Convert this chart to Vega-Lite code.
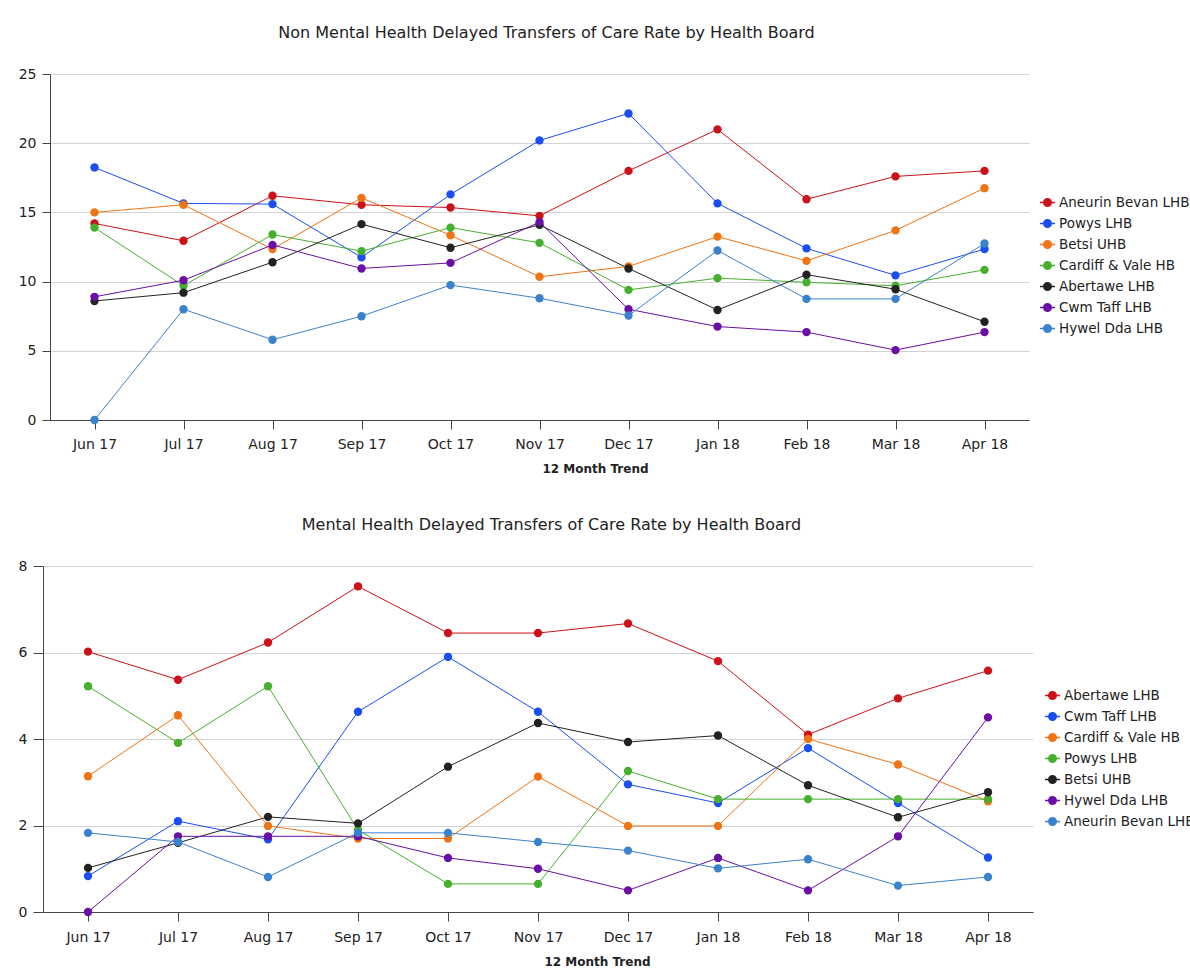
{
  "$schema": "https://vega.github.io/schema/vega-lite/v6.json",
  "background": "white",
  "padding": {"left": 18, "top": 25, "right": 0, "bottom": 0},
  "datasets": {
    "nonmh": [
      {"m":"Jun 17","s":"Aneurin Bevan LHB","v":14.2},{"m":"Jul 17","s":"Aneurin Bevan LHB","v":12.95},{"m":"Aug 17","s":"Aneurin Bevan LHB","v":16.2},{"m":"Sep 17","s":"Aneurin Bevan LHB","v":15.55},{"m":"Oct 17","s":"Aneurin Bevan LHB","v":15.35},{"m":"Nov 17","s":"Aneurin Bevan LHB","v":14.75},{"m":"Dec 17","s":"Aneurin Bevan LHB","v":18.0},{"m":"Jan 18","s":"Aneurin Bevan LHB","v":21.0},{"m":"Feb 18","s":"Aneurin Bevan LHB","v":15.95},{"m":"Mar 18","s":"Aneurin Bevan LHB","v":17.6},{"m":"Apr 18","s":"Aneurin Bevan LHB","v":18.0},
      {"m":"Jun 17","s":"Powys LHB","v":18.25},{"m":"Jul 17","s":"Powys LHB","v":15.65},{"m":"Aug 17","s":"Powys LHB","v":15.6},{"m":"Sep 17","s":"Powys LHB","v":11.75},{"m":"Oct 17","s":"Powys LHB","v":16.3},{"m":"Nov 17","s":"Powys LHB","v":20.2},{"m":"Dec 17","s":"Powys LHB","v":22.15},{"m":"Jan 18","s":"Powys LHB","v":15.65},{"m":"Feb 18","s":"Powys LHB","v":12.4},{"m":"Mar 18","s":"Powys LHB","v":10.45},{"m":"Apr 18","s":"Powys LHB","v":12.35},
      {"m":"Jun 17","s":"Betsi UHB","v":15.0},{"m":"Jul 17","s":"Betsi UHB","v":15.55},{"m":"Aug 17","s":"Betsi UHB","v":12.35},{"m":"Sep 17","s":"Betsi UHB","v":16.05},{"m":"Oct 17","s":"Betsi UHB","v":13.35},{"m":"Nov 17","s":"Betsi UHB","v":10.35},{"m":"Dec 17","s":"Betsi UHB","v":11.1},{"m":"Jan 18","s":"Betsi UHB","v":13.25},{"m":"Feb 18","s":"Betsi UHB","v":11.5},{"m":"Mar 18","s":"Betsi UHB","v":13.7},{"m":"Apr 18","s":"Betsi UHB","v":16.75},
      {"m":"Jun 17","s":"Cardiff & Vale HB","v":13.9},{"m":"Jul 17","s":"Cardiff & Vale HB","v":9.7},{"m":"Aug 17","s":"Cardiff & Vale HB","v":13.4},{"m":"Sep 17","s":"Cardiff & Vale HB","v":12.2},{"m":"Oct 17","s":"Cardiff & Vale HB","v":13.9},{"m":"Nov 17","s":"Cardiff & Vale HB","v":12.8},{"m":"Dec 17","s":"Cardiff & Vale HB","v":9.4},{"m":"Jan 18","s":"Cardiff & Vale HB","v":10.25},{"m":"Feb 18","s":"Cardiff & Vale HB","v":9.95},{"m":"Mar 18","s":"Cardiff & Vale HB","v":9.7},{"m":"Apr 18","s":"Cardiff & Vale HB","v":10.85},
      {"m":"Jun 17","s":"Abertawe LHB","v":8.6},{"m":"Jul 17","s":"Abertawe LHB","v":9.2},{"m":"Aug 17","s":"Abertawe LHB","v":11.4},{"m":"Sep 17","s":"Abertawe LHB","v":14.15},{"m":"Oct 17","s":"Abertawe LHB","v":12.45},{"m":"Nov 17","s":"Abertawe LHB","v":14.1},{"m":"Dec 17","s":"Abertawe LHB","v":10.95},{"m":"Jan 18","s":"Abertawe LHB","v":7.95},{"m":"Feb 18","s":"Abertawe LHB","v":10.5},{"m":"Mar 18","s":"Abertawe LHB","v":9.45},{"m":"Apr 18","s":"Abertawe LHB","v":7.1},
      {"m":"Jun 17","s":"Cwm Taff LHB","v":8.9},{"m":"Jul 17","s":"Cwm Taff LHB","v":10.1},{"m":"Aug 17","s":"Cwm Taff LHB","v":12.65},{"m":"Sep 17","s":"Cwm Taff LHB","v":10.95},{"m":"Oct 17","s":"Cwm Taff LHB","v":11.35},{"m":"Nov 17","s":"Cwm Taff LHB","v":14.3},{"m":"Dec 17","s":"Cwm Taff LHB","v":8.0},{"m":"Jan 18","s":"Cwm Taff LHB","v":6.75},{"m":"Feb 18","s":"Cwm Taff LHB","v":6.35},{"m":"Mar 18","s":"Cwm Taff LHB","v":5.05},{"m":"Apr 18","s":"Cwm Taff LHB","v":6.35},
      {"m":"Jun 17","s":"Hywel Dda LHB","v":0},{"m":"Jul 17","s":"Hywel Dda LHB","v":8.0},{"m":"Aug 17","s":"Hywel Dda LHB","v":5.8},{"m":"Sep 17","s":"Hywel Dda LHB","v":7.5},{"m":"Oct 17","s":"Hywel Dda LHB","v":9.75},{"m":"Nov 17","s":"Hywel Dda LHB","v":8.8},{"m":"Dec 17","s":"Hywel Dda LHB","v":7.55},{"m":"Jan 18","s":"Hywel Dda LHB","v":12.25},{"m":"Feb 18","s":"Hywel Dda LHB","v":8.75},{"m":"Mar 18","s":"Hywel Dda LHB","v":8.75},{"m":"Apr 18","s":"Hywel Dda LHB","v":12.75}
    ],
    "mh": [
      {"m":"Jun 17","s":"Abertawe LHB","v":6.02},{"m":"Jul 17","s":"Abertawe LHB","v":5.37},{"m":"Aug 17","s":"Abertawe LHB","v":6.23},{"m":"Sep 17","s":"Abertawe LHB","v":7.53},{"m":"Oct 17","s":"Abertawe LHB","v":6.45},{"m":"Nov 17","s":"Abertawe LHB","v":6.45},{"m":"Dec 17","s":"Abertawe LHB","v":6.67},{"m":"Jan 18","s":"Abertawe LHB","v":5.8},{"m":"Feb 18","s":"Abertawe LHB","v":4.1},{"m":"Mar 18","s":"Abertawe LHB","v":4.94},{"m":"Apr 18","s":"Abertawe LHB","v":5.58},
      {"m":"Jun 17","s":"Cwm Taff LHB","v":0.83},{"m":"Jul 17","s":"Cwm Taff LHB","v":2.1},{"m":"Aug 17","s":"Cwm Taff LHB","v":1.68},{"m":"Sep 17","s":"Cwm Taff LHB","v":4.63},{"m":"Oct 17","s":"Cwm Taff LHB","v":5.9},{"m":"Nov 17","s":"Cwm Taff LHB","v":4.63},{"m":"Dec 17","s":"Cwm Taff LHB","v":2.95},{"m":"Jan 18","s":"Cwm Taff LHB","v":2.52},{"m":"Feb 18","s":"Cwm Taff LHB","v":3.79},{"m":"Mar 18","s":"Cwm Taff LHB","v":2.52},{"m":"Apr 18","s":"Cwm Taff LHB","v":1.26},
      {"m":"Jun 17","s":"Cardiff & Vale HB","v":3.14},{"m":"Jul 17","s":"Cardiff & Vale HB","v":4.55},{"m":"Aug 17","s":"Cardiff & Vale HB","v":1.99},{"m":"Sep 17","s":"Cardiff & Vale HB","v":1.7},{"m":"Oct 17","s":"Cardiff & Vale HB","v":1.7},{"m":"Nov 17","s":"Cardiff & Vale HB","v":3.13},{"m":"Dec 17","s":"Cardiff & Vale HB","v":1.99},{"m":"Jan 18","s":"Cardiff & Vale HB","v":1.99},{"m":"Feb 18","s":"Cardiff & Vale HB","v":4.0},{"m":"Mar 18","s":"Cardiff & Vale HB","v":3.41},{"m":"Apr 18","s":"Cardiff & Vale HB","v":2.56},
      {"m":"Jun 17","s":"Powys LHB","v":5.22},{"m":"Jul 17","s":"Powys LHB","v":3.91},{"m":"Aug 17","s":"Powys LHB","v":5.22},{"m":"Sep 17","s":"Powys LHB","v":1.9},{"m":"Oct 17","s":"Powys LHB","v":0.65},{"m":"Nov 17","s":"Powys LHB","v":0.65},{"m":"Dec 17","s":"Powys LHB","v":3.26},{"m":"Jan 18","s":"Powys LHB","v":2.61},{"m":"Feb 18","s":"Powys LHB","v":2.61},{"m":"Mar 18","s":"Powys LHB","v":2.61},{"m":"Apr 18","s":"Powys LHB","v":2.61},
      {"m":"Jun 17","s":"Betsi UHB","v":1.02},{"m":"Jul 17","s":"Betsi UHB","v":1.6},{"m":"Aug 17","s":"Betsi UHB","v":2.2},{"m":"Sep 17","s":"Betsi UHB","v":2.05},{"m":"Oct 17","s":"Betsi UHB","v":3.36},{"m":"Nov 17","s":"Betsi UHB","v":4.37},{"m":"Dec 17","s":"Betsi UHB","v":3.93},{"m":"Jan 18","s":"Betsi UHB","v":4.08},{"m":"Feb 18","s":"Betsi UHB","v":2.93},{"m":"Mar 18","s":"Betsi UHB","v":2.19},{"m":"Apr 18","s":"Betsi UHB","v":2.77},
      {"m":"Jun 17","s":"Hywel Dda LHB","v":0},{"m":"Jul 17","s":"Hywel Dda LHB","v":1.75},{"m":"Aug 17","s":"Hywel Dda LHB","v":1.75},{"m":"Sep 17","s":"Hywel Dda LHB","v":1.75},{"m":"Oct 17","s":"Hywel Dda LHB","v":1.25},{"m":"Nov 17","s":"Hywel Dda LHB","v":1.0},{"m":"Dec 17","s":"Hywel Dda LHB","v":0.5},{"m":"Jan 18","s":"Hywel Dda LHB","v":1.25},{"m":"Feb 18","s":"Hywel Dda LHB","v":0.5},{"m":"Mar 18","s":"Hywel Dda LHB","v":1.75},{"m":"Apr 18","s":"Hywel Dda LHB","v":4.5},
      {"m":"Jun 17","s":"Aneurin Bevan LHB","v":1.83},{"m":"Jul 17","s":"Aneurin Bevan LHB","v":1.62},{"m":"Aug 17","s":"Aneurin Bevan LHB","v":0.81},{"m":"Sep 17","s":"Aneurin Bevan LHB","v":1.83},{"m":"Oct 17","s":"Aneurin Bevan LHB","v":1.83},{"m":"Nov 17","s":"Aneurin Bevan LHB","v":1.62},{"m":"Dec 17","s":"Aneurin Bevan LHB","v":1.42},{"m":"Jan 18","s":"Aneurin Bevan LHB","v":1.01},{"m":"Feb 18","s":"Aneurin Bevan LHB","v":1.22},{"m":"Mar 18","s":"Aneurin Bevan LHB","v":0.61},{"m":"Apr 18","s":"Aneurin Bevan LHB","v":0.81}
    ]
  },
  "config": {
    "font": "DejaVu Sans",
    "view": {"stroke": null},
    "concat": {"spacing": 43},
    "axis": {"labelFont": "DejaVu Sans", "labelFontSize": 14, "labelColor": "#222222", "domainColor": "#444444", "tickColor": "#444444", "gridColor": "#d3d3d3", "titleColor": "#222222", "titleFont": "DejaVu Sans"},
    "legend": {"labelFont": "DejaVu Sans", "labelFontSize": 13.5, "labelColor": "#222222", "padding": 0},
    "title": {"font": "DejaVu Sans", "fontSize": 16, "fontWeight": "normal", "color": "#222222", "baseline": "alphabetic", "offset": 26}
  },
  "resolve": {"scale": {"color": "independent", "x": "independent", "y": "independent"}, "legend": {"color": "independent"}},
  "vconcat": [
    {
      "title": {"text": "Non Mental Health Delayed Transfers of Care Rate by Health Board", "anchor": "middle", "frame": "group", "dx": 7},
      "width": 979,
      "height": 346,
      "data": {"name": "nonmh"},
      "encoding": {
        "x": {"field": "m", "type": "ordinal", "sort": ["Jun 17","Jul 17","Aug 17","Sep 17","Oct 17","Nov 17","Dec 17","Jan 18","Feb 18","Mar 18","Apr 18"], "scale": {"type": "point", "padding": 0.5},
              "axis": {"title": "12 Month Trend", "labelAngle": 0, "grid": false, "tickSize": 9, "labelPadding": 8, "titleFontSize": 12, "titleFontWeight": "bold", "titleX": 545, "titleAlign": "center", "titlePadding": 12}},
        "y": {"field": "v", "type": "quantitative", "scale": {"domain": [0, 25]},
              "axis": {"title": null, "values": [0, 5, 10, 15, 20, 25], "tickSize": 8, "labelPadding": 6, "grid": true}},
        "color": {"field": "s", "type": "nominal",
                  "scale": {"domain": ["Aneurin Bevan LHB","Powys LHB","Betsi UHB","Cardiff & Vale HB","Abertawe LHB","Cwm Taff LHB","Hywel Dda LHB"],
                            "range": ["#cc1119","#1a4ef0","#f07414","#46b02e","#222222","#6a0fa6","#3a82cc"]},
                  "legend": {"title": null, "orient": "none", "legendX": 989, "legendY": 120, "symbolType": "M-1,0H1M-0.5,0A0.5,0.5 0 1,0 0.5,0A0.5,0.5 0 1,0 -0.5,0Z", "symbolSize": 225, "symbolStrokeWidth": 1.5, "rowPadding": 5, "labelOffset": 3}}
      },
      "layer": [
        {"mark": {"type": "line", "strokeWidth": 1}},
        {"mark": {"type": "point", "filled": true, "size": 70, "opacity": 1}}
      ]
    },
    {
      "title": {"text": "Mental Health Delayed Transfers of Care Rate by Health Board", "anchor": "middle", "frame": "group", "dx": 10},
      "width": 983,
      "height": 346,
      "data": {"name": "mh"},
      "encoding": {
        "x": {"field": "m", "type": "ordinal", "sort": ["Jun 17","Jul 17","Aug 17","Sep 17","Oct 17","Nov 17","Dec 17","Jan 18","Feb 18","Mar 18","Apr 18"], "scale": {"type": "point", "padding": 0.5, "range": [-7, 983]},
              "axis": {"title": "12 Month Trend", "labelAngle": 0, "grid": false, "tickSize": 9, "labelPadding": 9, "titleFontSize": 12, "titleFontWeight": "bold", "titleX": 547, "titleAlign": "center", "titlePadding": 12}},
        "y": {"field": "v", "type": "quantitative", "scale": {"domain": [0, 8]},
              "axis": {"title": null, "values": [0, 2, 4, 6, 8], "tickSize": 10, "labelPadding": 6, "grid": true, "offset": 7}},
        "color": {"field": "s", "type": "nominal",
                  "scale": {"domain": ["Abertawe LHB","Cwm Taff LHB","Cardiff & Vale HB","Powys LHB","Betsi UHB","Hywel Dda LHB","Aneurin Bevan LHB"],
                            "range": ["#cc1119","#1a4ef0","#f07414","#46b02e","#222222","#6a0fa6","#3a82cc"]},
                  "legend": {"title": null, "orient": "none", "legendX": 994, "legendY": 121, "symbolType": "M-1,0H1M-0.5,0A0.5,0.5 0 1,0 0.5,0A0.5,0.5 0 1,0 -0.5,0Z", "symbolSize": 225, "symbolStrokeWidth": 1.5, "rowPadding": 5, "labelOffset": 3}}
      },
      "layer": [
        {"mark": {"type": "line", "strokeWidth": 1}},
        {"mark": {"type": "point", "filled": true, "size": 70, "opacity": 1}}
      ]
    }
  ]
}
